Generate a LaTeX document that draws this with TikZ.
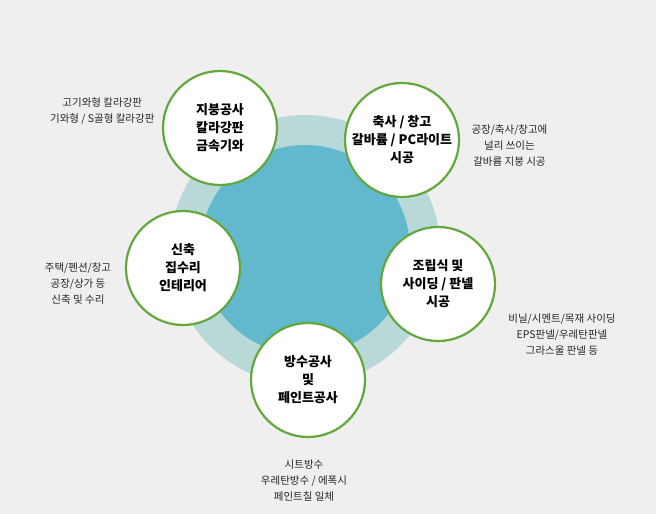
\documentclass[tikz,border=0pt]{standalone}
\usepackage{fontspec}
\setmainfont{Noto Sans CJK KR}
\usepackage{xcolor}
\usepackage{tikz}
\definecolor{bgray}{HTML}{EFEFEF}
\definecolor{ringc}{HTML}{B9D9D8}
\definecolor{hubc}{HTML}{62B9CE}
\definecolor{leafg}{HTML}{62A83C}
\tikzset{
  work/.style={circle, draw=leafg, line width=2.2pt, fill=white, minimum size=114pt, inner sep=0pt, align=center, font=\bfseries\fontsize{13}{18}\selectfont},
  note/.style={align=center, font=\fontsize{10.5}{16}\selectfont, text=black!85}
}
\begin{document}
\begin{tikzpicture}[x=1pt, y=-1pt]
   \fill[bgray] (0,0) rectangle (656,514);
   \useasboundingbox (0,0) rectangle (656,514);
   \node [circle, fill=ringc, minimum size=270pt] (ring) at (305,250) {};
   \node [circle, fill=hubc, minimum size=210pt] (hub) at (305,250) {};
   \node [work] (roof) at (220,128) {지붕공사\\칼라강판\\금속기와};
   \node [work] (barn) at (402,140) {축사 / 창고\\갈바륨 / PC라이트\\시공};
   \node [work] (panel) at (438,284) {조립식 및\\사이딩 / 판넬\\시공};
   \node [work] (water) at (308,380) {방수공사\\및\\페인트공사};
   \node [work] (build) at (183,268) {신축\\집수리\\인테리어};
   \node [note, anchor=east] (roofnote) at (158,111) {고기와형 칼라강판\\기와형 / S골형 칼라강판};
   \node [note, anchor=west] (barnnote) at (468,146) {공장/축사/창고에\\널리 쓰이는\\갈바륨 지붕 시공};
   \node [note] (panelnote) at (562,335) {비닐/시멘트/목재 사이딩\\EPS판넬/우레탄판넬\\그라스울 판넬 등};
   \node [note] (waternote) at (304,481) {시트방수\\우레탄방수 / 에폭시\\페인트칠 일체};
   \node [note] (buildnote) at (78,284) {주택/펜션/창고\\공장/상가 등\\신축 및 수리};
\end{tikzpicture}
\end{document}
